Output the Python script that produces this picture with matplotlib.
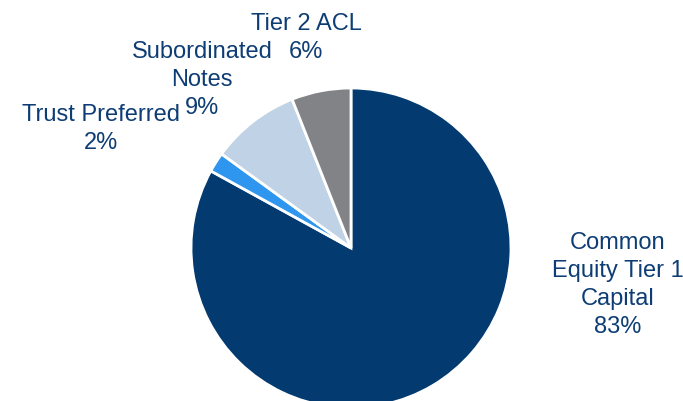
import matplotlib.pyplot as plt

labels = ["Common\nEquity Tier 1\nCapital\n83%", "Trust Preferred\n2%",
          "Subordinated\nNotes\n9%", "Tier 2 ACL\n6%"]
shares = [83, 2, 9, 6]
colors = ["#033B71", "#2E96EE", "#C0D2E5", "#828387"]

# label anchor points (pixels from top-left)
label_pos = [(618, 285), (101, 129), (202, 80), (306, 38)]

plt.rcParams['font.family'] = ['Liberation Sans', 'DejaVu Sans']

fig = plt.figure(figsize=(6.83, 4.01), dpi=100)
ax = fig.add_axes([0, 0, 1, 1])
ax.set_xlim(0, 683)
ax.set_ylim(0, 401)
ax.set_aspect('equal')
ax.axis('off')

ax.pie(shares, colors=colors, startangle=90, counterclock=False,
       center=(351, 401 - 248), radius=160,
       wedgeprops=dict(edgecolor='white', linewidth=2))

for txt, (x, y) in zip(labels, label_pos):
    ax.text(x, 401 - y, txt, ha='center', va='center', fontsize=17,
            color='#0D3D74', linespacing=1.35)

ax.set_xlim(0, 683)
ax.set_ylim(0, 401)
fig.savefig("out.png", dpi=100)
